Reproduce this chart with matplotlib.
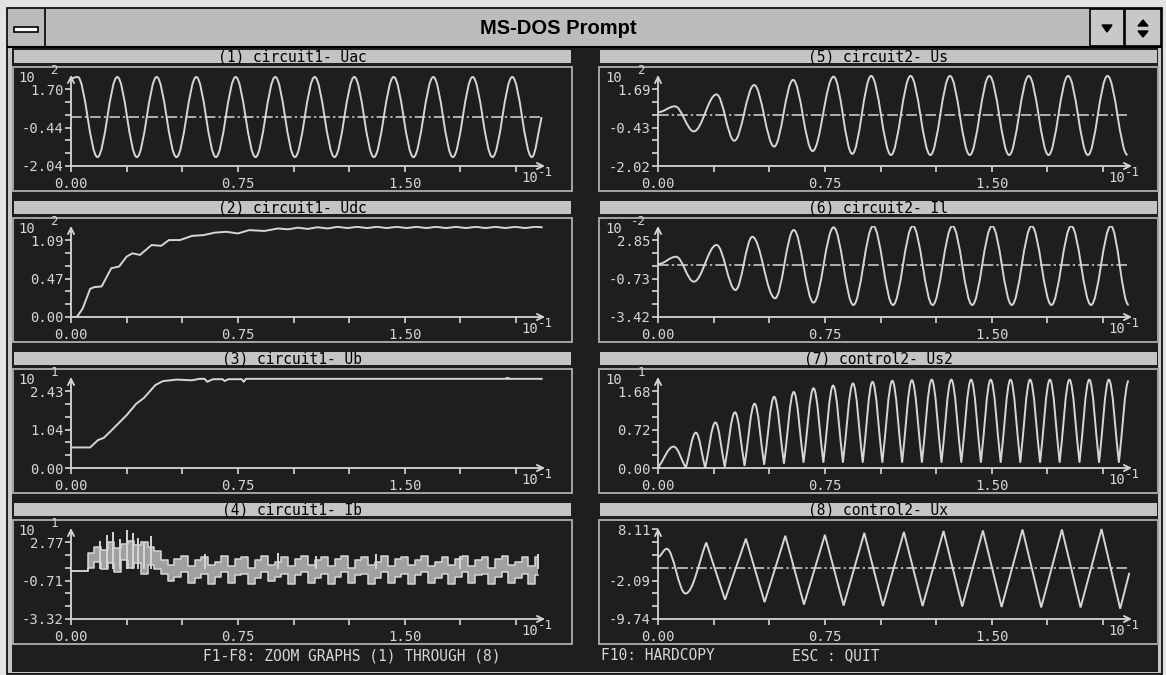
import matplotlib
matplotlib.use("Agg")
import numpy as np
import matplotlib.pyplot as plt
from matplotlib.path import Path
from matplotlib.patches import PathPatch, Rectangle, Polygon

plt.rcParams["font.family"] = ["DejaVu Sans Mono", "DejaVu Sans"]

W, H = 1166, 675
DARK = "#1e1e1e"
FG = "#d6d6d6"
BAR = "#c4c4c4"
CHROME = "#bcbcbc"

# ---- panel texts ----
titles = ["(1) circuit1- Uac", "(2) circuit1- Udc", "(3) circuit1- Ub", "(4) circuit1- Ib",
          "(5) circuit2- Us", "(6) circuit2- Il", "(7) control2- Us2", "(8) control2- Ux"]
ylabels = [["-2.04", "-0.44", "1.70"], ["0.00", "0.47", "1.09"],
           ["0.00", "1.04", "2.43"], ["-3.32", "-0.71", "2.77"],
           ["-2.02", "-0.43", "1.69"], ["-3.42", "-0.73", "2.85"],
           ["0.00", "0.72", "1.68"], ["-9.74", "-2.09", "8.11"]]
exponents = ["2", "2", "1", "1", "2", "-2", "1", None]
x_major = [0.0, 0.75, 1.5]
x_major_labels = ["0.00", "0.75", "1.50"]
x_minor = [0.25, 0.5, 1.0, 1.25, 1.75, 2.0]

# ---- (1) Uac: peaks / troughs ----
uac_t = [0.000, 0.030, 0.119, 0.208, 0.296, 0.385, 0.474, 0.563, 0.651, 0.740, 0.829, 0.918, 1.006,
         1.095, 1.184, 1.273, 1.361, 1.450, 1.539, 1.628, 1.716, 1.805, 1.894, 1.983, 2.071, 2.115]
uac_v = [1.65, 1.70, -1.70, 1.70, -1.70, 1.70, -1.70, 1.70, -1.70, 1.70, -1.70, 1.70, -1.70,
         1.70, -1.70, 1.70, -1.70, 1.70, -1.70, 1.70, -1.70, 1.70, -1.70, 1.70, -1.70, 0.00]

# ---- (2) Udc ----
udc_t = [0.000, 0.026, 0.052, 0.086, 0.103, 0.138, 0.181, 0.216, 0.250, 0.276, 0.310, 0.362, 0.405,
         0.440, 0.490, 0.543, 0.595, 0.647, 0.698, 0.750, 0.800, 0.870, 0.930, 0.975, 1.020, 1.064,
         1.108, 1.153, 1.197, 1.242, 1.286, 1.330, 1.375, 1.419, 1.464, 1.508, 1.552, 1.597, 1.641,
         1.686, 1.730, 1.774, 1.819, 1.863, 1.908, 1.952, 1.996, 2.041, 2.085, 2.115]
udc_v = [0.00, 0.00, 0.10, 0.34, 0.36, 0.37, 0.59, 0.61, 0.73, 0.77, 0.75, 0.87, 0.86,
         0.93, 0.93, 0.98, 0.99, 1.02, 1.03, 1.01, 1.05, 1.04, 1.07, 1.06, 1.08, 1.065,
         1.085, 1.07, 1.09, 1.075, 1.09, 1.075, 1.09, 1.075, 1.09, 1.075, 1.09, 1.075, 1.09,
         1.075, 1.09, 1.075, 1.09, 1.075, 1.09, 1.075, 1.09, 1.075, 1.09, 1.085]

# ---- (3) Ub ----
ub_t = [0.000, 0.086, 0.121, 0.147, 0.181, 0.250, 0.293, 0.328, 0.379, 0.414, 0.448, 0.474,
        0.543, 0.578, 0.600, 0.612, 0.638, 0.681, 0.690, 0.707, 0.767, 0.776, 0.786, 2.115]
ub_v = [0.56, 0.56, 0.76, 0.82, 1.02, 1.44, 1.75, 1.91, 2.26, 2.37, 2.39, 2.41,
        2.39, 2.43, 2.43, 2.35, 2.42, 2.42, 2.37, 2.42, 2.42, 2.35, 2.43, 2.43]
ub_dot_t = [1.96]
ub_dot_v = [2.47]

# ---- (4) Ib: band (upper / lower trace) sampled every ib_dt, plus spikes ----
ib_dt = 0.03
ib_hi = [-0.10, -0.10, -0.10,
         1.1, 1.5, 1.3, 1.8, 1.4, 1.7, 1.9, 1.6, 1.8, 1.5, 1.2,
         0.6, 0.3, 0.7, 0.9, 0.2, 0.6, 0.8, 0.3, 0.5, 0.9,
         0.2, 0.7, 0.8, 0.1, 0.6, 0.9, 0.3, 0.5, 0.8, 0.2,
         0.7, 0.9, 0.3, 0.6, 0.8, 0.2, 0.7, 0.9, 0.1, 0.6,
         0.8, 0.3, 0.5, 0.9, 0.2, 0.7, 0.8, 0.3, 0.6, 0.9,
         0.2, 0.5, 0.8, 0.3, 0.7, 0.9, 0.2, 0.6, 0.8, 0.1,
         0.7, 0.9, 0.3, 0.5, 0.8, 0.2, 0.8]
ib_lo = [-0.10, -0.10, -0.10,
         0.1, 0.5, 0.0, 0.4, -0.2, 0.6, 0.1, 0.4, -0.3, 0.3, 0.0,
         -0.3, -0.8, -0.5, -0.2, -0.9, -0.6, -0.3, -1.0, -0.5, -0.2,
         -0.9, -0.4, -0.3, -1.0, -0.6, -0.2, -0.8, -0.5, -0.3, -1.0,
         -0.4, -0.2, -0.9, -0.6, -0.3, -1.0, -0.5, -0.2, -0.9, -0.4,
         -0.3, -1.0, -0.6, -0.2, -0.9, -0.5, -0.3, -1.0, -0.4, -0.2,
         -0.9, -0.6, -0.3, -1.0, -0.5, -0.2, -0.9, -0.4, -0.3, -1.0,
         -0.5, -0.2, -0.9, -0.6, -0.3, -1.0, -0.4]
ib_spike_t = [0.13, 0.16, 0.19, 0.22, 0.25, 0.28, 0.30, 0.33, 0.36, 0.60, 0.93, 1.10, 1.37, 1.75, 2.10]
ib_spike_v = [1.9, 2.3, 2.5, 2.0, 2.6, 2.4, 2.1, 1.8, 2.2, 1.0, 1.1, 0.9, 1.0, 0.9, 1.0]

# ---- (5) Us ----
us_t = [0.000, 0.076, 0.161, 0.263, 0.343, 0.432, 0.522, 0.607, 0.695, 0.789, 0.873, 0.958, 1.047,
        1.135, 1.224, 1.312, 1.401, 1.489, 1.578, 1.666, 1.755, 1.843, 1.932, 2.020, 2.110]
us_v = [0.14, 0.39, -0.68, 0.90, -1.08, 1.30, -1.33, 1.52, -1.52, 1.66, -1.64, 1.69, -1.69,
        1.69, -1.69, 1.69, -1.69, 1.69, -1.69, 1.69, -1.69, 1.69, -1.69, 1.69, -1.69]

# ---- (6) Il ----
il_t = [0.000, 0.081, 0.161, 0.263, 0.348, 0.424, 0.526, 0.610, 0.699, 0.789, 0.878, 0.967, 1.056,
        1.145, 1.234, 1.323, 1.412, 1.501, 1.590, 1.679, 1.768, 1.857, 1.946, 2.035, 2.115]
il_v = [0.10, 0.63, -1.17, 1.48, -1.77, 2.07, -2.37, 2.56, -2.68, 2.75, -2.85, 2.85, -2.85,
        2.85, -2.85, 2.85, -2.85, 2.85, -2.85, 2.85, -2.85, 2.85, -2.85, 2.85, -2.85]

# ---- (7) Us2 ----
us2_t = [0.000, 0.070, 0.125, 0.170, 0.212, 0.258, 0.300, 0.346, 0.389, 0.434, 0.477, 0.522,
         0.566, 0.610, 0.654, 0.699, 0.743, 0.787, 0.831, 0.876, 0.920, 0.964, 1.008, 1.053,
         1.097, 1.141, 1.186, 1.230, 1.274, 1.318, 1.363, 1.407, 1.451, 1.495, 1.540, 1.584,
         1.628, 1.672, 1.717, 1.761, 1.805, 1.849, 1.894, 1.938, 1.982, 2.026, 2.071, 2.115]
us2_v = [0.00, 0.40, 0.00, 0.66, 0.00, 0.85, 0.02, 1.04, 0.04, 1.20, 0.06, 1.33,
         0.08, 1.42, 0.10, 1.49, 0.10, 1.54, 0.10, 1.58, 0.10, 1.61, 0.10, 1.63,
         0.10, 1.64, 0.10, 1.65, 0.10, 1.65, 0.10, 1.65, 0.10, 1.65, 0.10, 1.65,
         0.10, 1.65, 0.10, 1.65, 0.10, 1.65, 0.10, 1.65, 0.10, 1.65, 0.10, 1.63]

# ---- (8) Ux ----
ux_t = [0.000, 0.039, 0.124, 0.217, 0.301, 0.395, 0.479, 0.572, 0.656, 0.750, 0.834, 0.927, 1.011,
        1.105, 1.189, 1.283, 1.367, 1.460, 1.544, 1.638, 1.722, 1.815, 1.899, 1.993, 2.077, 2.118]
ux_v = [2.3, 4.0, -5.3, 5.3, -6.6, 6.1, -7.1, 6.7, -7.6, 6.9, -7.8, 7.3, -7.9,
        7.5, -7.9, 7.7, -8.0, 7.8, -8.1, 8.0, -8.2, 8.0, -8.2, 8.11, -8.45, -1.0]

fig = plt.figure(figsize=(W / 100, H / 100), dpi=100)
fig.patch.set_facecolor("#e3e3e3")
bg = fig.add_axes([0, 0, 1, 1])
bg.set_xlim(0, W)
bg.set_ylim(H, 0)
bg.axis("off")


def box(x0, y0, x1, y1, fc, ec="none", lw=1.0, z=1):
    bg.add_patch(Rectangle((x0, y0), x1 - x0, y1 - y0, fc=fc, ec=ec, lw=lw, zorder=z))


# window chrome
box(7, 8, 1162, 674, "#c6c6c6", "black", 1.2)
box(12, 47, 1158, 672, DARK, z=1.5)
box(8, 9, 1161, 46, CHROME, z=2)
bg.plot([8, 1161], [46.5, 46.5], color="black", lw=1.5, zorder=3)
bg.plot([45, 45], [9, 46], color="black", lw=1.2, zorder=3)
box(14, 27, 38, 32, "white", "black", 1.2, z=3)
box(1090, 9, 1124, 46, "#c8c8c8", "black", 1.2, z=3)
box(1125, 9, 1161, 46, "#c8c8c8", "black", 1.2, z=3)
bg.add_patch(Polygon([(1102, 25), (1112, 25), (1107, 32)], color="black", zorder=4))
bg.add_patch(Polygon([(1138, 26), (1148, 26), (1143, 20)], color="black", zorder=4))
bg.add_patch(Polygon([(1138, 31), (1148, 31), (1143, 37)], color="black", zorder=4))
bg.text(558, 29, "MS-DOS Prompt", ha="center", va="center", fontsize=14.5,
        fontweight="bold", family=["Liberation Sans", "DejaVu Sans"], zorder=4)

bg.text(352, 656, "F1-F8: ZOOM GRAPHS (1) THROUGH (8)", ha="center", va="center",
        color=FG, fontsize=10.5, zorder=4)
bg.text(658, 656, "F10: HARDCOPY", ha="center", va="center", color=FG, fontsize=10.5, zorder=4)
bg.text(836, 656, "ESC : QUIT", ha="center", va="center", color=FG, fontsize=10.5, zorder=4)

XMAX = 2.13
LW = 1.4


def panel(idx, ylim, top_k=6):
    col, row = divmod(idx, 4)
    yh = 57 + 151 * row
    ox = 71 if col == 0 else 658
    fx0, fx1 = (13, 572) if col == 0 else (599, 1158)
    box(fx0 + 1, yh - 7, fx1 - 1, yh + 6, BAR, z=2)
    bg.text((fx0 + fx1) / 2, yh, titles[idx], ha="center", va="center",
            fontsize=10.5, color="black", zorder=3)
    bg.add_patch(Rectangle((fx0, yh + 10), fx1 - fx0, 124, fill=False,
                           ec="#a4a4a4", lw=1.4, zorder=2))

    ax = fig.add_axes([ox / W, 1 - (yh + 109) / H, 474 / W, 91 / H])
    ax.set_facecolor("none")
    ax.set_xlim(0, XMAX)
    ax.set_ylim(ylim)
    for s in ax.spines.values():
        s.set_visible(False)
    arrow = dict(arrowstyle="->", color=FG, lw=1.3, shrinkA=0, shrinkB=0, mutation_scale=11)
    ax.annotate("", xy=(1, 0), xytext=(0, 0), xycoords="axes fraction",
                arrowprops=arrow, annotation_clip=False)
    ax.annotate("", xy=(0, 1), xytext=(0, 0), xycoords="axes fraction",
                arrowprops=arrow, annotation_clip=False)

    ax.set_xticks(x_major, x_major_labels)
    ax.set_xticks(x_minor, minor=True)
    pos = [ylim[0] + (ylim[1] - ylim[0]) * k * 12.8 / 91 for k in range(top_k + 1)]
    ax.set_yticks([pos[0], pos[3], pos[top_k]], ylabels[idx])
    ax.set_yticks(pos, minor=True)
    ax.tick_params(which="both", direction="out", length=4, width=1.2, color=FG,
                   labelcolor=FG, labelsize=10)
    ax.tick_params(axis="x", pad=3.6)
    ax.tick_params(axis="y", pad=1.5)

    ax.text(0.949, -0.132, "10", transform=ax.transAxes, color=FG, fontsize=10,
            ha="left", va="center")
    ax.text(0.985, -0.066, "-1", transform=ax.transAxes, color=FG, fontsize=9,
            ha="left", va="center")
    if exponents[idx] is not None:
        ax.text(-0.112, 0.967, "10", transform=ax.transAxes, color=FG, fontsize=10,
                ha="left", va="center")
        ex = 0.044 if len(exponents[idx]) == 1 else 0.058
        ax.text(-ex, 1.044, exponents[idx], transform=ax.transAxes, color=FG,
                fontsize=9, ha="left", va="center")
    return ax


def wave(ax, t, v, sharp):
    verts = [(t[0], v[0])]
    codes = [Path.MOVETO]
    for i in range(len(t) - 1):
        x0, y0, x1, y1 = t[i], v[i], t[i + 1], v[i + 1]
        dx, dy = x1 - x0, y1 - y0
        c1 = (x0 + dx / 3, y0 + dy / 3) if sharp[i] else (x0 + 0.364 * dx, y0)
        c2 = (x1 - dx / 3, y1 - dy / 3) if sharp[i + 1] else (x1 - 0.364 * dx, y1)
        verts += [c1, c2, (x1, y1)]
        codes += [Path.CURVE4] * 3
    ax.add_patch(PathPatch(Path(verts, codes), fill=False, ec=FG, lw=LW))


def zero_line(ax, t_end):
    ax.hlines(0, 0, t_end, colors=FG, lw=1.1, linestyles=(0, (7, 2, 1.5, 2)))


ax1 = panel(0, (-2.08, 1.785))
zero_line(ax1, uac_t[-1])
wave(ax1, uac_t, uac_v, [False] * (len(uac_t) - 1) + [True])

ax2 = panel(1, (0.0, 1.10))
ax2.plot(udc_t, udc_v, color=FG, lw=LW)

ax3 = panel(2, (0.0, 2.48))
ax3.plot(ub_t, ub_v, color=FG, lw=LW)
ax3.plot(ub_dot_t, ub_dot_v, "s", color=FG, ms=2)

ax4 = panel(3, (-3.32, 2.75))
ib_t = np.arange(len(ib_hi)) * ib_dt
ax4.fill_between(ib_t, ib_lo, ib_hi, step="mid", color="#a0a0a0", lw=0)
ax4.plot(ib_t, ib_hi, color=FG, lw=1.1, drawstyle="steps-mid")
ax4.plot(ib_t, ib_lo, color=FG, lw=1.1, drawstyle="steps-mid")
ax4.vlines(ib_spike_t, 0.0, ib_spike_v, colors=FG, lw=1.4)

ax5 = panel(4, (-2.16, 1.73))
zero_line(ax5, us_t[-1])
wave(ax5, us_t, us_v, [False] * len(us_t))

ax6 = panel(5, (-3.72, 2.85))
zero_line(ax6, il_t[-1])
wave(ax6, il_t, il_v, [False] * len(il_t))

ax7 = panel(6, (0.0, 1.70))
wave(ax7, us2_t, us2_v, [i % 2 == 0 for i in range(len(us2_t))])

ax8 = panel(7, (-10.6, 8.32), top_k=7)
zero_line(ax8, ux_t[-1])
wave(ax8, ux_t, ux_v, [i > 2 for i in range(len(ux_t))])

fig.savefig("out.png", dpi=100, facecolor=fig.get_facecolor())
plt.close(fig)
